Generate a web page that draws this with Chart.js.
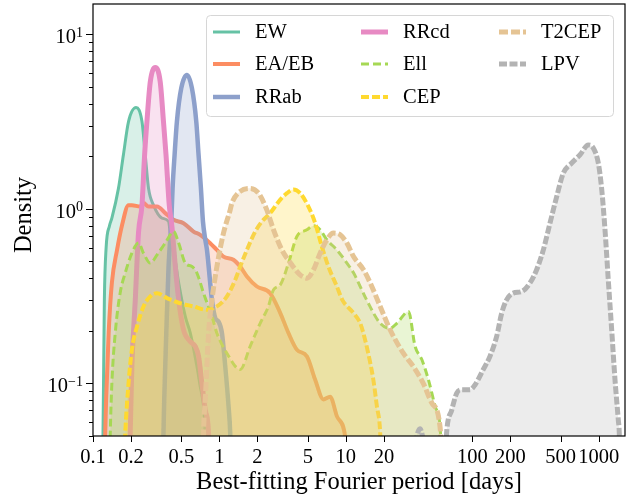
<!DOCTYPE html>
<html>
<head>
<meta charset="utf-8">
<script src="https://cdn.jsdelivr.net/npm/chart.js@4.4.0/dist/chart.umd.min.js"></script>
<style>
  html, body { margin: 0; padding: 0; background: #fff; }
  #wrap { width: 638px; height: 502px; }
</style>
</head>
<body>
<div id="wrap"><canvas id="kdeChart" width="638" height="502"></canvas></div>
<script>
/* ======================================================
   Data (period [days] -> density)
=========================================================*/
const ewPeriod = [0.117, 0.12, 0.123, 0.127, 0.135, 0.141, 0.159, 0.174, 0.191, 0.219, 0.244, 0.259, 0.275, 0.301, 0.351, 0.396, 0.408, 0.434, 0.476, 0.537, 0.588, 0.664, 0.705, 0.749, 0.773, 0.79];
const ewDensity = [0.03, 0.052, 0.3, 0.6, 0.8, 0.885, 1.31, 2.04, 3.16, 3.8, 3.16, 2.04, 1.31, 1.05, 0.885, 0.846, 0.729, 0.583, 0.377, 0.242, 0.195, 0.125, 0.096, 0.074, 0.052, 0.03];

const eaPeriod = [0.122, 0.125, 0.127, 0.133, 0.141, 0.155, 0.17, 0.191, 0.203, 0.236, 0.251, 0.275, 0.321, 0.373, 0.434, 0.52, 0.624, 0.705, 0.845, 0.955, 1.077, 1.29, 1.46, 1.65, 1.98, 2.52, 3.03, 3.52, 4.1, 4.92, 5.72, 6.65, 7.51, 8.49, 9.86, 10.5];
const eaDensity = [0.03, 0.052, 0.081, 0.195, 0.377, 0.582, 0.81, 1.05, 1.05, 1.03, 1.08, 1.03, 1.03, 0.945, 0.865, 0.828, 0.741, 0.71, 0.636, 0.582, 0.533, 0.511, 0.467, 0.41, 0.359, 0.329, 0.253, 0.194, 0.156, 0.143, 0.105, 0.081, 0.084, 0.065, 0.05, 0.03];

const rrabPeriod = [0.355, 0.361, 0.366, 0.38, 0.396, 0.416, 0.426, 0.442, 0.461, 0.499, 0.553, 0.606, 0.656, 0.684, 0.714, 0.741, 0.773, 0.797, 0.873, 0.927, 0.984, 1.047, 1.112, 1.181, 1.217, 1.24];
const rrabDensity = [0.03, 0.052, 0.081, 0.195, 0.467, 0.846, 1.31, 2.04, 3.16, 4.91, 5.85, 4.91, 3.16, 2.04, 1.31, 0.846, 0.665, 0.582, 0.301, 0.237, 0.226, 0.194, 0.125, 0.074, 0.052, 0.03];

const rrcdPeriod = [0.193, 0.197, 0.203, 0.216, 0.229, 0.244, 0.256, 0.267, 0.284, 0.311, 0.34, 0.361, 0.378, 0.401, 0.421, 0.448, 0.476, 0.52, 0.588, 0.644, 0.684, 0.727, 0.773, 0.821, 0.84];
const rrcdDensity = [0.03, 0.052, 0.125, 0.301, 0.729, 1.05, 2.04, 3.16, 5.35, 6.44, 5.35, 3.16, 2.04, 1.05, 0.792, 0.467, 0.301, 0.203, 0.174, 0.163, 0.143, 0.1, 0.0707, 0.052, 0.03];

const ellPeriod = [0.135, 0.137, 0.141, 0.15, 0.164, 0.18, 0.203, 0.229, 0.251, 0.284, 0.321, 0.373, 0.434, 0.476, 0.537, 0.606, 0.664, 0.749, 0.873, 0.955, 1.146, 1.46, 1.75, 2.1, 2.44, 2.68, 3.03, 3.52, 4.1, 4.92, 5.55, 6.26, 7.08, 8.49, 10.2, 11.5, 13.0, 14.6, 18.7, 22.4, 25.3, 31.3, 35.3, 39.9, 45.0, 50.8, 55.6, 58];
const ellDensity = [0.03, 0.052, 0.1, 0.195, 0.33, 0.43, 0.557, 0.637, 0.557, 0.489, 0.545, 0.637, 0.741, 0.637, 0.489, 0.467, 0.429, 0.329, 0.242, 0.194, 0.149, 0.12, 0.163, 0.221, 0.276, 0.344, 0.367, 0.489, 0.694, 0.758, 0.799, 0.758, 0.665, 0.582, 0.489, 0.43, 0.359, 0.301, 0.221, 0.207, 0.221, 0.258, 0.163, 0.137, 0.105, 0.074, 0.0566, 0.03];

const cepPeriod = [0.175, 0.18, 0.191, 0.203, 0.223, 0.251, 0.284, 0.321, 0.385, 0.49, 0.624, 0.797, 0.955, 1.146, 1.33, 1.46, 1.65, 1.92, 2.17, 2.52, 3.03, 3.42, 3.85, 4.35, 5.06, 5.72, 6.46, 7.28, 8.49, 9.4, 11.5, 13.0, 14.2, 15.6, 16.5, 17.6, 18.7, 19.2];
const cepDensity = [0.03, 0.052, 0.1, 0.156, 0.212, 0.276, 0.315, 0.329, 0.308, 0.288, 0.276, 0.264, 0.276, 0.315, 0.39, 0.467, 0.582, 0.741, 0.846, 0.945, 1.13, 1.23, 1.29, 1.23, 1.03, 0.828, 0.608, 0.467, 0.359, 0.3, 0.253, 0.221, 0.178, 0.131, 0.105, 0.074, 0.052, 0.03];

const t2cepPeriod = [0.74, 0.749, 0.773, 0.821, 0.873, 0.955, 1.077, 1.217, 1.256, 1.46, 1.75, 2.04, 2.37, 2.68, 3.12, 3.74, 4.35, 4.92, 5.55, 6.26, 7.08, 7.98, 9.02, 10.2, 11.5, 13.8, 15.6, 18.7, 22.4, 28.5, 34.2, 41.0, 47.9, 55.6, 58];
const t2cepDensity = [0.03, 0.052, 0.081, 0.195, 0.301, 0.467, 0.726, 0.987, 1.08, 1.26, 1.31, 1.23, 0.987, 0.758, 0.582, 0.478, 0.419, 0.401, 0.448, 0.557, 0.665, 0.726, 0.71, 0.636, 0.533, 0.448, 0.376, 0.276, 0.203, 0.149, 0.125, 0.1, 0.0772, 0.0566, 0.03];

const lpvPeriod = [32, 38.6, 46, 60, 62.9, 68.9, 75.4, 82.6, 96.1, 105, 122, 138, 156, 171, 187, 211, 246, 286, 323, 365, 412, 466, 525, 612, 712, 828, 906, 993, 1057, 1122, 1191, 1267, 1346, 1429, 1455, 1480];
const lpvDensity = [0.03, 0.055, 0.03, 0.03, 0.054, 0.0706, 0.0881, 0.092, 0.092, 0.098, 0.12, 0.143, 0.186, 0.253, 0.301, 0.329, 0.336, 0.376, 0.448, 0.582, 0.828, 1.18, 1.6, 1.83, 2.04, 2.32, 2.23, 1.83, 1.29, 0.758, 0.392, 0.203, 0.105, 0.062, 0.052, 0.03];

const seriesNames = ["EW", "EA/EB", "RRab", "RRcd", "Ell", "CEP", "T2CEP", "LPV"];
const seriesPeriods = [ewPeriod, eaPeriod, rrabPeriod, rrcdPeriod, ellPeriod, cepPeriod, t2cepPeriod, lpvPeriod];
const seriesDensities = [ewDensity, eaDensity, rrabDensity, rrcdDensity, ellDensity, cepDensity, t2cepDensity, lpvDensity];

const xTickValues = [0.1, 0.2, 0.5, 1, 2, 5, 10, 20, 100, 200, 500, 1000];
const yMajorTicks = [0.1, 1, 10];
const xRange = [0.1, 1615];
const yRange = [0.05, 14.9];

/* ======================================================
   Styles
=========================================================*/
const styles = {
  "EW":    { color: "#66c2a5", width: 3,   dash: [] },
  "EA/EB": { color: "#fc8d62", width: 4,   dash: [] },
  "RRab":  { color: "#8da0cb", width: 4.5, dash: [] },
  "RRcd":  { color: "#e78ac3", width: 5,   dash: [] },
  "Ell":   { color: "#a6d854", width: 3,   dash: [8, 4] },
  "CEP":   { color: "#ffd92f", width: 4,   dash: [8, 3] },
  "T2CEP": { color: "#e5c494", width: 5,   dash: [9, 3] },
  "LPV":   { color: "#b3b3b3", width: 5,   dash: [8, 2.5] },
};
const SERIF = "'Liberation Serif', 'Times New Roman', serif";

function withAlpha(hex, a) {
  const n = parseInt(hex.slice(1), 16);
  return `rgba(${(n >> 16) & 255}, ${(n >> 8) & 255}, ${n & 255}, ${a})`;
}

/* ======================================================
   Frame, ticks, labels, legend
=========================================================*/
const axisDecor = {
  id: "axisDecor",
  afterDraw(chart) {
    const { ctx, chartArea: a } = chart;
    const x = chart.scales.x, y = chart.scales.y;
    ctx.save();
    ctx.strokeStyle = "#000";
    ctx.lineWidth = 1;

    // x tick marks
    xTickValues.forEach((v) => {
      const px = Math.round(x.getPixelForValue(v)) + 0.5;
      ctx.beginPath(); ctx.moveTo(px, a.bottom); ctx.lineTo(px, a.bottom + 6); ctx.stroke();
    });

    // y tick marks (major + minor)
    for (let d = -2; d <= 1; d++) {
      for (let k = 1; k <= 9; k++) {
        const v = k * Math.pow(10, d);
        if (v < yRange[0] || v > yRange[1]) continue;
        const py = Math.round(y.getPixelForValue(v)) + 0.5;
        const len = k === 1 ? 7 : 4;
        ctx.beginPath(); ctx.moveTo(a.left, py); ctx.lineTo(a.left - len, py); ctx.stroke();
      }
    }

    // frame
    ctx.lineWidth = 1.2;
    ctx.strokeRect(a.left, a.top, a.right - a.left, a.bottom - a.top);

    // y tick labels 10^n
    ctx.fillStyle = "#000";
    ctx.textBaseline = "alphabetic";
    yMajorTicks.forEach((v) => {
      const py = y.getPixelForValue(v);
      const exp = String(Math.round(Math.log10(v))).replace("-", "\u2212");
      ctx.font = `14px ${SERIF}`;
      const we = ctx.measureText(exp).width;
      ctx.font = `20.5px ${SERIF}`;
      const wb = ctx.measureText("10").width;
      const right = a.left - 10;
      ctx.textAlign = "left";
      ctx.fillText("10", right - we - wb, py + 9);
      ctx.font = `14px ${SERIF}`;
      ctx.fillText(exp, right - we, py + 2.5);
    });

    // axis titles
    ctx.font = `24.5px ${SERIF}`;
    ctx.textAlign = "center";
    ctx.textBaseline = "middle";
    ctx.fillText("Best-fitting Fourier period [days]", (a.left + a.right) / 2, 483);
    ctx.save();
    ctx.translate(25, (a.top + a.bottom) / 2 - 5);
    ctx.rotate(-Math.PI / 2);
    ctx.fillText("Density", 0, 0);
    ctx.restore();

    // legend (3 columns, filled top to bottom)
    const box = { x: 206, y: 15, w: 407, h: 101 };
    ctx.beginPath();
    ctx.roundRect(box.x + 0.5, box.y + 0.5, box.w, box.h, 4);
    ctx.fillStyle = "rgba(255,255,255,0.8)";
    ctx.fill();
    ctx.strokeStyle = "#d6d6d6";
    ctx.lineWidth = 1;
    ctx.stroke();

    const colX = [213, 361, 499];
    const rowY = [32, 64, 97];
    ctx.font = `20.5px ${SERIF}`;
    ctx.textAlign = "left";
    ctx.textBaseline = "middle";
    seriesNames.forEach((name, i) => {
      const s = styles[name];
      const cx = colX[Math.floor(i / 3)];
      const cy = rowY[i % 3];
      ctx.beginPath();
      ctx.setLineDash(s.dash);
      ctx.lineDashOffset = 0;
      ctx.strokeStyle = s.color;
      ctx.lineWidth = s.width;
      ctx.lineCap = "butt";
      ctx.moveTo(cx, cy); ctx.lineTo(cx + 27, cy);
      ctx.stroke();
      ctx.setLineDash([]);
      ctx.fillStyle = "#000";
      ctx.fillText(name, cx + 42, cy + 1);
    });
    ctx.restore();
  },
};

/* ======================================================
   Chart
=========================================================*/
const datasets = seriesNames.map((name, i) => {
  const s = styles[name];
  return {
    label: name,
    data: seriesPeriods[i].map((p, j) => ({ x: p, y: seriesDensities[i][j] })),
    borderColor: s.color,
    backgroundColor: withAlpha(s.color, 0.25),
    borderWidth: s.width,
    borderDash: s.dash,
    fill: "start",
    pointRadius: 0,
    cubicInterpolationMode: "monotone",
    clip: 0,
    order: seriesNames.length - i,
  };
});

new Chart(document.getElementById("kdeChart"), {
  type: "line",
  data: { datasets },
  options: {
    responsive: false,
    animation: false,
    devicePixelRatio: 1,
    layout: { padding: { top: 4, right: 13, left: 0, bottom: 0 } },
    plugins: { legend: { display: false }, tooltip: { enabled: false } },
    scales: {
      x: {
        type: "logarithmic",
        min: xRange[0],
        max: xRange[1],
        grid: { display: false },
        border: { display: false },
        afterBuildTicks: (scale) => { scale.ticks = xTickValues.map((v) => ({ value: v })); },
        afterFit: (scale) => { scale.height = 66; },
        ticks: {
          autoSkip: false,
          maxRotation: 0,
          padding: 1,
          color: "#000",
          font: { family: SERIF, size: 20.5 },
          callback: (v) => String(v),
        },
      },
      y: {
        type: "logarithmic",
        min: yRange[0],
        max: yRange[1],
        grid: { display: false },
        border: { display: false },
        ticks: { display: false },
        afterFit: (scale) => { scale.width = 93; },
      },
    },
  },
  plugins: [axisDecor],
});
</script>
</body>
</html>
